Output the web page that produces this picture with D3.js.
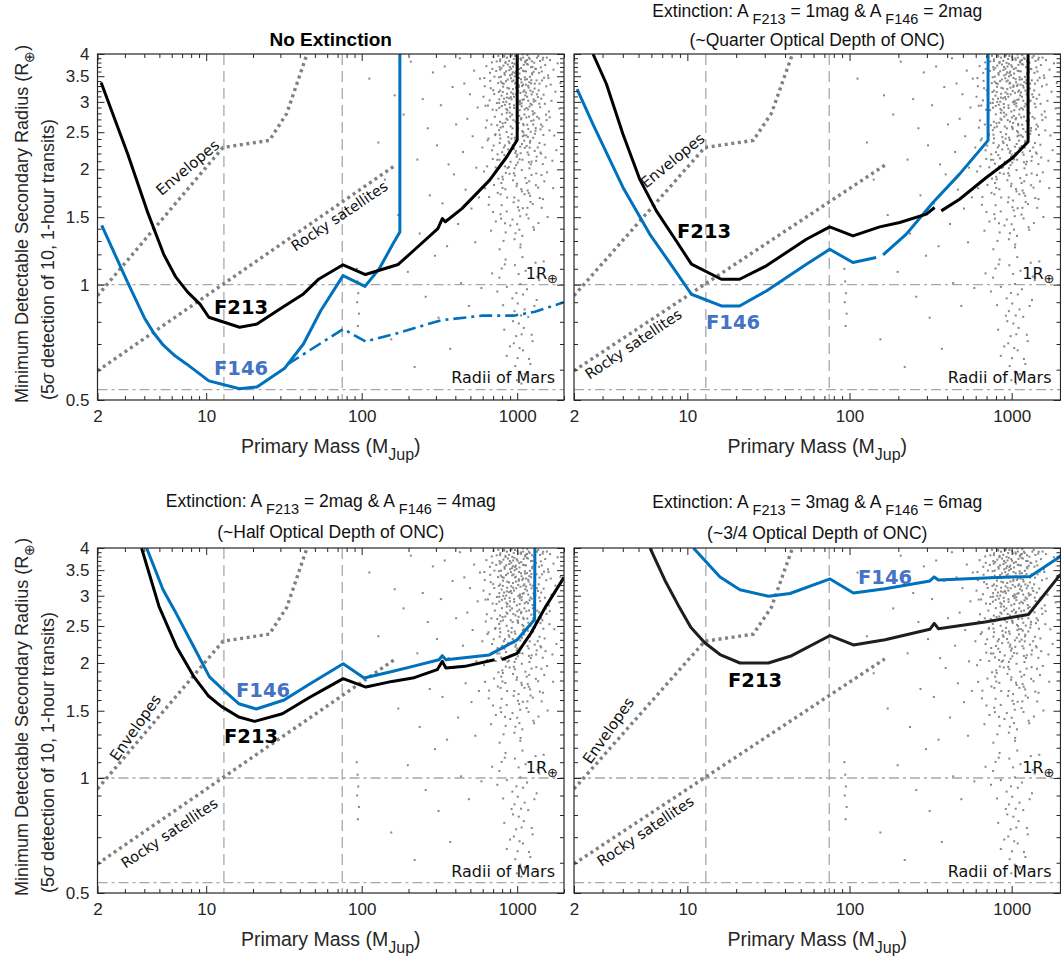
<!DOCTYPE html>
<html><head><meta charset="utf-8">
<script src="https://cdn.jsdelivr.net/npm/d3@7"></script>
<style>
body{margin:0;background:#fff;}
svg{display:block;font-family:"Liberation Sans",Arial,Helvetica,sans-serif;}
</style></head><body>
<svg id="chart" width="1061" height="962"></svg>
<script>
// ---------------- DATA ----------------
const massTicks = [2, 10, 100, 1000];
const massMinor = [3,4,5,6,7,8,9,20,30,40,50,60,70,80,90,200,300,400,500,600,700,800,900,2000];
const radiusTicks = [0.5, 1, 1.5, 2, 2.5, 3, 3.5, 4];
const radiusMinor = [0.6,0.7,0.8,0.9,1.1,1.2,1.3,1.4,1.6,1.7,1.8,1.9,2.1,2.2,2.3,2.4,2.6,2.7,2.8,2.9,3.1,3.2,3.3,3.4,3.6,3.7,3.8,3.9];
const burningLimits = [13, 75];          // deuterium / hydrogen burning masses (M_Jup)
const earthRadius = 1, marsRadius = 0.532;
const envelopes = [[2,0.936],[12.8,2.28],[25.5,2.38],[33,2.8],[44.5,4.0]];
const rockySatellites = [[2,0.596],[165,2.05]];

const extF213 = [0, 1, 2, 3];
const extF146 = [0, 2, 4, 6];
const depthNotes = ["", "(~Quarter Optical Depth of ONC)", "(~Half Optical Depth of ONC)", "(~3/4 Optical Depth of ONC)"];

// detection limit curves [mass, radius]; null = gap
const p1F213 = [[2.11,3.37],[3.12,2.20],[4.24,1.53],[5.33,1.20],[6.38,1.046],[7.63,0.955],[9.12,0.89],[10.4,0.822],[16.4,0.774],[21.2,0.789],[31,0.873],[42.2,0.946],[53.1,1.035],[75.9,1.127],[105.7,1.063],[171.7,1.129],[216,1.228],[309,1.40],[330,1.487],[345,1.46],[441,1.579],[665,1.874],[858,2.157],[1000,2.385],[1000,4.0]];
const p1F146 = [[2.13,1.428],[3.12,1.015],[4.0,0.82],[4.6,0.748],[5.3,0.695],[6.3,0.652],[7.43,0.622],[10.4,0.561],[16.4,0.535],[21.2,0.541],[31.8,0.604],[42.2,0.70],[54.5,0.855],[75.9,1.056],[105,0.99],[129.7,1.10],[159,1.279],[176,1.372],[176,4.0]];
const p1F146Ext = [[33.5,0.62],[76,0.766],[106,0.711],[176,0.75],[325,0.808],[600,0.83],[950,0.83],[1300,0.85],[2000,0.9]];
const p2F213 = [[2.62,4.0],[3.17,3.34],[4.01,2.47],[5.08,1.886],[6.44,1.558],[8.55,1.30],[10.6,1.131],[16.2,1.033],[21,1.033],[30.7,1.12],[54.2,1.314],[75.5,1.415],[105,1.341],[153.6,1.415],[204,1.453],[298,1.528],[335,1.59],null,[368,1.558],[477,1.671],[698,1.904],[1018,2.148],[1262,2.36],[1262,4.0]];
const p2F146 = [[2.09,3.24],[2.62,2.62],[4.01,1.794],[5.86,1.355],[8.17,1.108],[10.6,0.944],[16.2,0.88],[21,0.88],[30.7,0.963],[54.2,1.13],[75.5,1.237],[105,1.142],[146,1.177],null,[161,1.196],[224,1.355],[327,1.638],[477,1.943],[715,2.38],[715,4.0]];
const p3F213 = [[3.84,4.0],[4.97,2.815],[6.43,2.21],[8.3,1.846],[10.3,1.642],[12.5,1.54],[16.2,1.444],[20.5,1.407],[30.9,1.473],[45.5,1.62],[61.9,1.737],[76,1.82],[106.4,1.73],[156.7,1.79],[213,1.826],[306,1.921],[330,2.02],[348,1.94],[461,1.96],[716,2.04],null,[793,2.04],[1000,2.12],[1230,2.40],[1525,2.81],[2000,3.35]];
const p3F146 = [[4.14,4.0],[5.28,3.11],[6.25,2.75],[8.3,2.21],[10.5,1.84],[12.5,1.72],[16.2,1.565],[21,1.516],[31.7,1.60],[45.5,1.755],[76,1.99],[103.7,1.827],[156.7,1.90],[213,1.96],[314,2.04],[330,2.09],[348,2.04],[662,2.10],[1000,2.30],[1294,2.60],[1300,4.0]];
const p4F213 = [[5.89,4.0],[7.28,3.29],[8.8,2.83],[10.5,2.48],[12.8,2.26],[15.9,2.105],[21.1,2.0],[31.6,2.0],[44,2.09],[75.9,2.36],[105.7,2.23],[165.6,2.30],[313,2.45],[333,2.54],[353,2.46],[685,2.56],[1268,2.68],[1941,3.36],[2000,3.41]];
const p4F146 = [[10.9,4.0],[15.9,3.36],[21.1,3.11],[31.6,2.99],[42.9,3.04],[75.9,3.32],[105.7,3.05],[165.6,3.13],[313,3.28],[333,3.36],[353,3.30],[685,3.34],[1297,3.37],[1941,3.77],[2000,3.82]];

// ONC primaries [mass M_Jup, radius R_earth]
const oncCore = [
[1003,2.731],[947,3.412],[1088,1.583],[921,3.967],[1052,2.204],[986,3.138],[1117,2.866],[893,1.947],[1031,3.654],[964,2.419],[1076,3.301],[908,2.588],[1124,3.823],[975,1.362],[1040,2.957],[899,3.519],[1009,2.083],[1101,3.747],[936,2.311],[1063,1.776],
[951,3.882],[1021,2.642],[887,3.066],[1095,2.497],[979,3.598],[1048,1.251],[927,2.779],[1112,3.214],[992,2.156],[905,3.949],[1069,2.921],[958,1.689],[1027,3.463],[882,2.364],[1083,3.036],[942,3.711],[1014,2.547],[1129,1.898],[969,3.349],[1057,2.701],
[916,3.176],[1000,1.438],[1092,3.915],[953,2.262],[1035,3.557],[896,2.812],[1071,1.991],[983,3.268],[1106,2.453],[930,3.792],[1043,3.002],[961,1.314],[1018,2.994],[889,3.631],[1081,2.119],[945,2.688],[1122,3.429],[997,1.834],[910,3.086],[1060,3.861],
[972,2.386],[1029,1.562],[939,3.239],[1099,2.607],[1006,3.704],[884,2.028],[1066,3.374],[955,2.938],[1115,1.722],[989,3.523],[923,2.471],[1049,3.167],[966,1.926],[1086,3.991],[901,2.747],[1024,3.282],[981,2.233],[1108,3.608],[933,1.479],[1038,2.853],
[960,3.771],[1074,2.329],[913,3.458],[1012,2.571],[1127,3.119],[949,1.641],[1055,3.896],[893,2.962],[1002,2.183],[1090,3.327],[938,3.584],[1033,1.392],[976,2.664],[1103,3.046],[918,2.405],[1061,3.676],[991,1.807],[1015,3.203],[887,3.839],[1079,2.517],
[957,2.892],[1045,1.509],[929,3.393],[1119,2.276],[994,3.739],[906,2.093],[1068,2.974],[970,3.567],[1020,1.658],[943,3.148],[1094,2.628],[1007,3.928],[891,2.342],[1051,1.273],[963,3.497],[1113,2.781],[984,2.051],[1026,3.312],[915,3.662],[1085,2.439],
[952,1.954],[1041,3.023],[1125,3.806],[973,2.207],[898,2.901],[1058,3.436],[1011,1.593],[934,2.559],[1097,3.189],[968,3.953],[1036,2.124],[886,3.251],[1072,1.752],[995,2.831],[925,3.541],[1110,2.376],[954,3.094],[1016,3.872],[903,1.427],[1064,2.721],
[980,3.366],[1047,2.292],[941,1.873],[1089,3.617],[1004,2.584],[920,3.047],[1120,3.477],[962,2.013],[1032,2.758],[897,3.698],[1078,1.341]];
const oncLower = [
[812,3.286],[847,2.137],[779,3.874],[866,2.693],[795,1.612],[831,3.531],[772,2.462],[858,3.079],[803,1.913],[841,3.786],[766,2.982],[874,2.254],[819,3.345],[788,1.487],[852,2.875],[775,3.642],[836,2.036],[808,3.183],[862,1.689],[783,2.571],
[826,3.938],[769,2.118],[870,3.432],[798,2.784],[843,1.369],[777,3.211],[855,2.503],[815,3.729],[790,1.842],[833,2.948],[763,3.478],[868,2.016],[806,2.638],[849,3.605],[781,1.527],[823,3.058],[772,2.344],[860,3.912],[800,2.217],[839,1.774],
[785,3.387],[853,2.711],[817,1.301],[767,2.895],[829,3.569],[876,2.427],[794,3.115],[845,1.958],[776,3.832],[811,2.586],[864,3.264],[789,2.069],[835,1.446],[770,3.696],[857,2.809],[801,3.357],[821,2.281],[782,1.721],[850,3.003],[765,2.531],
[872,3.754],[809,1.883],[838,2.647],[787,3.489],[827,2.179],[771,1.237],[861,3.149],[797,2.926],[842,3.815],[779,2.408],[814,2.998],[856,1.553],[792,3.672],[834,2.308],[768,3.047],[866,2.852],[804,1.789],[848,3.398],[776,2.662],[824,3.961],
[712,3.143],[654,2.407],[738,3.826],[621,1.785],[695,2.862],[748,2.189],[668,3.571],[729,1.462],[607,3.094],[683,2.618],[754,3.357],[641,2.036],[703,3.934],[725,2.471],[660,1.693],[741,2.978],[615,3.462],[690,2.242],[757,1.891],[634,3.718],
[718,2.743],[676,3.256],[745,2.118],[628,2.569],[699,1.548],[733,3.612],[649,2.934],[706,2.307],[761,3.183],[612,1.974],[687,3.803],[722,2.456],[665,3.027],[750,1.736],[638,2.683],[714,3.491],[679,1.383],[736,2.854],[619,3.296],[697,2.129],
[756,3.957],[645,2.381],[709,1.821],[671,3.404],[744,2.607],[626,2.931],[692,3.658],[727,2.024],[656,1.616],[701,3.218]];
const oncUpper = [
[1158,3.094],[1213,2.372],[1142,3.845],[1276,2.687],[1187,1.733],[1234,3.419],[1166,2.214],[1321,3.652],[1201,2.918],[1149,1.524],[1258,3.186],[1179,2.549],[1342,3.913],[1224,2.061],[1137,3.327],[1291,2.804],[1195,1.862],[1246,3.563],[1171,2.431],[1309,3.021],
[1153,3.768],[1219,1.644],[1268,2.619],[1184,3.268],[1335,2.158],[1207,3.486],[1145,2.732],[1283,1.391],[1238,3.137],[1162,3.974],[1301,2.476],[1190,2.087],[1254,3.701],[1174,2.867],[1327,1.951],[1229,3.354],[1150,2.302],[1272,3.045],[1203,3.882],[1315,2.563],
[1168,1.761],[1241,2.948],[1139,3.603],[1296,2.234],[1215,3.211],[1183,1.489],[1262,2.782],[1156,3.437],[1339,3.139],[1199,2.012],[1287,3.796],[1233,2.675],[1176,3.305],[1318,1.818],[1147,2.891],[1249,3.538],[1209,2.348],[1280,3.006],[1164,1.587],[1305,3.661],
[1222,2.506],[1189,3.912],[1345,2.741],[1236,1.934],[1141,3.173],[1267,2.418],[1197,3.377],[1324,2.105],[1172,3.754],[1256,2.836],[1211,1.706],[1294,3.251],[1160,2.614],[1244,3.829],[1185,2.183],[1331,3.414],[1218,2.967],[1151,1.842],[1275,3.593],[1204,2.279],
[1312,2.523],[1178,3.021],[1260,1.623],[1227,3.696],[1143,2.453],[1298,3.347],[1192,2.745],[1271,1.412],[1155,3.859],[1239,2.095],
[1376,3.214],[1453,2.587],[1402,3.836],[1521,2.148],[1364,1.792],[1488,3.469],[1598,2.831],[1427,3.057],[1712,3.641],[1392,2.342],[1556,1.964],[1468,3.912],[1384,2.714],[1643,3.328],[1437,1.587],[1507,2.965],[1821,3.782],[1411,2.213],[1579,3.516],[1359,3.087],
[1473,2.459],[1684,2.106],[1419,3.691],[1532,2.778],[1398,1.683],[1762,3.189],[1446,3.413],[1612,2.527],[1367,3.954],[1494,1.861],[1538,3.294],[1423,2.618],[1867,2.883],[1381,3.573],[1461,2.064],[1627,3.856],[1405,2.905],[1569,1.502],[1479,3.132],[1733,2.451],
[1356,2.281],[1514,3.742],[1431,1.932],[1662,3.019],[1393,3.346],[1546,2.689],[1458,3.867],[1787,2.244],[1412,2.543],[1590,3.461],[1371,1.448],[1502,2.319],[1440,3.601],[1703,1.786],[1387,2.966],[1551,3.915],[1426,2.197],[1619,2.734],[1898,3.358],[1464,1.672]];
const oncTail = [
[1082,1.18],[842,1.163],[1312,1.141],[967,1.124],[795,1.102],[1133,1.087],[1021,1.066],[768,1.043],[1386,1.028],[1047,1.004],[858,0.987],[1156,0.973],[989,0.951],[1091,0.943],[931,0.921],[1334,0.912],[1008,0.893],[812,0.884],[1117,0.862],[961,0.853],
[1059,0.831],[1178,0.824],[940,0.803],[1024,0.792],[1103,0.771],[826,0.763],[1068,0.742],[985,0.734],[1256,0.712],[952,0.703],[1036,0.683],[1089,0.674],[857,0.652],[1005,0.643],[1215,0.621],[972,0.613],[1045,0.593],[1121,0.584],[995,0.563],[1064,0.552],
[832,1.13],[1350,1.05],[745,0.96],[1290,0.88],[920,0.83],[1240,0.74],[900,0.69],[1190,0.64],[1480,1.15],[690,1.07]];
const oncSparse = [
[93,1.1],[94,1.02],[95,0.95],[93.5,0.9],[96,0.84],[94.5,0.78],
[112,3.45],[128,2.35],[141,1.88],[155,0.72],[163,3.12],[172,1.52],[186,2.78],[198,1.08],[207,3.82],[219,0.61],[228,2.12],[236,1.36],[247,3.05],[258,0.93],
[266,2.56],[274,1.71],[287,3.58],[296,1.19],[305,2.31],[312,0.82],[323,2.94],[331,1.63],[342,3.71],[354,1.26],[362,2.06],[371,0.68],[384,3.28],[392,1.94],
[405,2.62],[417,1.44],[428,3.9],[436,1.01],[448,2.22],[457,3.35],[466,1.77],[478,2.71],[489,0.88],[497,3.14],[508,1.58],[517,2.44],[529,3.62],[538,1.29],
[546,2.02],[557,2.9],[568,1.69],[576,3.45],[589,0.98],[597,2.28]];

const oncPrimaries = oncCore.concat(oncLower, oncUpper, oncTail, oncSparse);

// ---------------- LAYOUT ----------------
const panels = [
  {x0:97.5, x1:564,   y0:54,  y1:400, left:true,  f213:p1F213, f146:p1F146, ext:p1F146Ext, t1:-37, t2:-8,
   lab213:[214,314], lab146:[214,375], env:[188,168,-40], rocky:[340,217,-34]},
  {x0:574,  x1:1060.5,y0:54,  y1:400, left:false, f213:p2F213, f146:p2F146, t1:-37, t2:-8,
   lab213:[677,238], lab146:[706,329], env:[673,161,-39], rocky:[634,345,-34]},
  {x0:97.5, x1:564,   y0:548, y1:893, left:true,  f213:p3F213, f146:p3F146, t1:-41, t2:-10,
   lab213:[224,743], lab146:[236,697], env:[136,728,-55], rocky:[170,834,-34]},
  {x0:574,  x1:1060.5,y0:548, y1:893, left:false, f213:p4F213, f146:p4F146, dark:true, t1:-40, t2:-9,
   lab213:[728,687], lab146:[858,584], env:[609,731,-55], rocky:[646,832,-34]}
];

const svg = d3.select("#chart");
const AX = "#262626", BLUE = "#0072BD", LBLUE = "#4472C4", GREY = "#808080", REF = "#a8a8a8";
const HUM = "'DejaVu Sans', Verdana, sans-serif";

function subText(sel, parts, subSize, shift) {
  let wasSub = false;
  parts.forEach(([t, sub]) => {
    const ts = sel.append("tspan").text(t);
    if (sub) ts.attr("font-size", subSize).attr("dy", shift);
    else if (wasSub) ts.attr("dy", -shift);
    wasSub = !!sub;
  });
}

panels.forEach((p, i) => {
  const x = d3.scaleLog().domain([2, 2000]).range([p.x0, p.x1]);
  const y = d3.scaleLog().domain([0.5, 4]).range([p.y1, p.y0]);
  const g = svg.append("g");
  const cid = "clip" + i;
  svg.append("clipPath").attr("id", cid).append("rect")
    .attr("x", p.x0).attr("y", p.y0).attr("width", p.x1 - p.x0).attr("height", p.y1 - p.y0);
  const plot = g.append("g").attr("clip-path", `url(#${cid})`);

  // reference lines
  plot.selectAll("line.vl").data(burningLimits).join("line")
    .attr("x1", d => x(d)).attr("x2", d => x(d)).attr("y1", p.y0).attr("y2", p.y1)
    .attr("stroke", REF).attr("stroke-width", 1.3).attr("stroke-dasharray", "11,6");
  plot.selectAll("line.hl").data([earthRadius, marsRadius]).join("line")
    .attr("x1", p.x0).attr("x2", p.x1).attr("y1", d => y(d)).attr("y2", d => y(d))
    .attr("stroke", REF).attr("stroke-width", 1.3).attr("stroke-dasharray", "10,4,3,4");

  // scatter
  plot.append("g").selectAll("rect").data(oncPrimaries).join("rect")
    .attr("x", d => x(d[0]) - 1).attr("y", d => y(d[1]) - 1)
    .attr("width", 2).attr("height", 2).attr("fill", "#878787");

  // dotted model lines
  const line = d3.line().defined(d => d !== null).x(d => x(d[0])).y(d => y(d[1]));
  [envelopes, rockySatellites].forEach(dl => {
    plot.append("path").attr("d", line(dl)).attr("fill", "none")
      .attr("stroke", GREY).attr("stroke-width", 3.4).attr("stroke-dasharray", "3,3.6");
  });

  // curves
  if (p.ext) plot.append("path").attr("d", line(p.ext)).attr("fill", "none")
      .attr("stroke", BLUE).attr("stroke-width", 2.6).attr("stroke-dasharray", "13,5,3,5");
  const blackCol = p.dark ? "#1e1e1e" : "#000";
  const drawBlue = () => plot.append("path").attr("d", line(p.f146)).attr("fill", "none").attr("stroke", BLUE).attr("stroke-width", 3).attr("stroke-linejoin", "round");
  const drawBlack = () => plot.append("path").attr("d", line(p.f213)).attr("fill", "none").attr("stroke", blackCol).attr("stroke-width", 3).attr("stroke-linejoin", "round");
  if (i === 2) { drawBlack(); drawBlue(); } else { drawBlue(); drawBlack(); }

  // in-plot annotations
  g.append("text").attr("x", p.lab213[0]).attr("y", p.lab213[1]).text("F213")
    .attr("font-family", HUM).attr("font-weight", "bold").attr("font-size", 19.5).attr("fill", "#000");
  g.append("text").attr("x", p.lab146[0]).attr("y", p.lab146[1]).text("F146")
    .attr("font-family", HUM).attr("font-weight", "bold").attr("font-size", 19.5).attr("fill", LBLUE);
  [[p.env, "Envelopes", 15], [p.rocky, "Rocky satellites", 14.5]].forEach(([c, t, fs]) => {
    g.append("text").attr("transform", `translate(${c[0]},${c[1]}) rotate(${c[2]})`)
      .attr("text-anchor", "middle").attr("dominant-baseline", "middle")
      .attr("font-family", HUM).attr("font-size", fs).attr("fill", "#111").text(t);
  });
  const rt = g.append("text").attr("x", p.x1 - 6).attr("y", p.y0 + 225).attr("text-anchor", "end")
    .attr("font-family", HUM).attr("font-size", 16).attr("fill", "#111");
  subText(rt, [["1R", 0], ["\u2295", 1]], 13, 4);
  g.append("text").attr("x", p.x1 - 9).attr("y", p.y0 + 329).attr("text-anchor", "end")
    .attr("font-family", HUM).attr("font-size", 16).attr("fill", "#111").text("Radii of Mars");

  // axes
  const styleAxis = s => {
    s.attr("font-family", "'Liberation Sans', Arial, sans-serif").attr("font-size", 17);
    s.selectAll("path.domain").remove();
    s.selectAll("line").attr("stroke", AX);
    s.selectAll("text").attr("fill", AX);
  };
  const tickFmt = d => String(d);
  g.append("g").attr("transform", `translate(0,${p.y1})`)
    .call(d3.axisBottom(x).tickValues(massTicks).tickFormat(tickFmt).tickSize(-7).tickPadding(10)).call(styleAxis);
  g.append("g").attr("transform", `translate(0,${p.y1})`)
    .call(d3.axisBottom(x).tickValues(massMinor).tickFormat("").tickSize(-4)).call(styleAxis);
  g.append("g").attr("transform", `translate(0,${p.y0})`)
    .call(d3.axisTop(x).tickValues(massTicks).tickFormat("").tickSize(-7)).call(styleAxis);
  g.append("g").attr("transform", `translate(0,${p.y0})`)
    .call(d3.axisTop(x).tickValues(massMinor).tickFormat("").tickSize(-4)).call(styleAxis);
  g.append("g").attr("transform", `translate(${p.x0},0)`)
    .call(d3.axisLeft(y).tickValues(radiusTicks).tickFormat(p.left ? tickFmt : "").tickSize(-7).tickPadding(8)).call(styleAxis);
  g.append("g").attr("transform", `translate(${p.x0},0)`)
    .call(d3.axisLeft(y).tickValues(radiusMinor).tickFormat("").tickSize(-4)).call(styleAxis);
  g.append("g").attr("transform", `translate(${p.x1},0)`)
    .call(d3.axisRight(y).tickValues(radiusTicks).tickFormat("").tickSize(-7)).call(styleAxis);
  g.append("g").attr("transform", `translate(${p.x1},0)`)
    .call(d3.axisRight(y).tickValues(radiusMinor).tickFormat("").tickSize(-4)).call(styleAxis);
  g.append("rect").attr("x", p.x0).attr("y", p.y0).attr("width", p.x1 - p.x0).attr("height", p.y1 - p.y0)
    .attr("fill", "none").attr("stroke", AX).attr("stroke-width", 1.2);

  // x label
  const cx = (p.x0 + p.x1) / 2;
  const xl = g.append("text").attr("x", cx).attr("y", p.y1 + 53).attr("text-anchor", "middle")
    .attr("font-size", 19.5).attr("fill", AX);
  subText(xl, [["Primary Mass (M", 0], ["Jup", 1], [")", 0]], 16, 7);

  // titles
  if (extF213[i] === 0) {
    g.append("text").attr("x", cx).attr("y", p.y0 - 8).attr("text-anchor", "middle")
      .attr("font-size", 19).attr("font-weight", "bold").attr("fill", "#000").text("No Extinction");
  } else {
    const t1 = g.append("text").attr("x", cx).attr("y", p.y0 + p.t1).attr("text-anchor", "middle")
      .attr("font-size", 17.5).attr("fill", "#111");
    subText(t1, [["Extinction: A ", 0], ["F213", 1], [" = " + extF213[i] + "mag & A ", 0], ["F146", 1], [" = " + extF146[i] + "mag", 0]], 14.5, 7);
    g.append("text").attr("x", cx).attr("y", p.y0 + p.t2).attr("text-anchor", "middle")
      .attr("font-size", 17.5).attr("fill", "#111").text(depthNotes[i]);
  }

  // y label (left panels)
  if (p.left) {
    const yl1 = g.append("text").attr("transform", `translate(28,${p.y1 + 3}) rotate(-90)`)
      .attr("font-size", 18).attr("fill", AX);
    subText(yl1, [["Minimum Detectable Secondary Radius (R", 0], ["\u2295", 1], [")", 0]], 14, 6);
    const yl2 = g.append("text").attr("transform", `translate(54,${p.y1}) rotate(-90)`)
      .attr("font-size", 18).attr("fill", AX);
    yl2.append("tspan").text("(5");
    yl2.append("tspan").attr("font-style", "italic").text("\u03c3");
    yl2.append("tspan").text(" detection of 10, 1-hour transits)");
  }
});
</script></body></html>
